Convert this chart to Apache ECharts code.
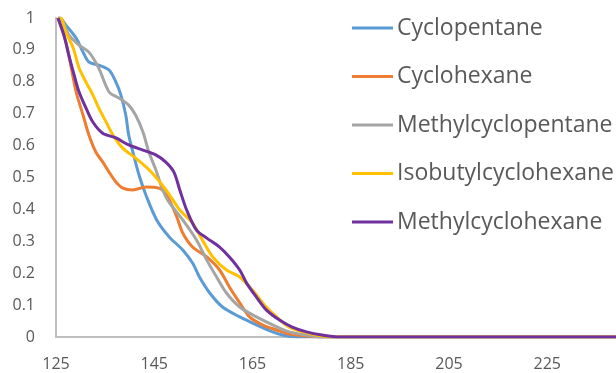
<!DOCTYPE html>
<html>
<head>
<meta charset="utf-8">
<script src="https://cdn.jsdelivr.net/npm/echarts@6/dist/echarts.min.js"></script>
<style>
  html, body { margin: 0; padding: 0; background: #fff; }
  #main { width: 616px; height: 373px; }
</style>
</head>
<body>
<div id="main"></div>
<script>
var names = ['Cyclopentane', 'Cyclohexane', 'Methylcyclopentane', 'Isobutylcyclohexane', 'Methylcyclohexane'];
var colors = ['#5B9BD5', '#ED7D31', '#A5A5A5', '#FFC000', '#7030A0'];

// [temperature, fraction]
var cyclopentane = [
  [125.4, 1.0], [125.8, 1.0], [127.0, 0.978], [129.1, 0.937], [130.5, 0.893], [131.7, 0.862],
  [133.7, 0.852], [135.8, 0.837], [137.2, 0.799], [138.2, 0.759], [139.2, 0.696], [139.8, 0.633],
  [140.8, 0.571], [141.9, 0.508], [143.3, 0.445], [145.5, 0.367], [148.1, 0.313], [150.8, 0.273],
  [152.8, 0.232], [154.2, 0.188], [156.3, 0.138], [158.9, 0.094], [162.4, 0.063], [165.8, 0.038],
  [169.1, 0.016], [171.1, 0.006], [173.9, 0], [190, 0], [210, 0], [239, 0]
];
var cyclohexane = [
  [125.4, 1.0], [127.0, 0.925], [128.0, 0.853], [129.1, 0.768], [130.5, 0.696], [131.7, 0.633],
  [133.1, 0.580], [134.5, 0.549], [135.8, 0.517], [137.2, 0.486], [138.6, 0.467], [140.6, 0.461],
  [143.3, 0.470], [145.3, 0.469], [146.7, 0.461], [148.1, 0.429], [149.6, 0.376], [150.8, 0.326],
  [152.8, 0.282], [155.7, 0.251], [158.3, 0.210], [160.3, 0.157], [162.4, 0.107], [164.4, 0.063],
  [167.0, 0.038], [169.9, 0.022], [172.5, 0.009], [176.0, 0.003], [179, 0], [195, 0], [215, 0], [239, 0]
];
var methylcyclopentane = [
  [125.4, 1.0], [125.8, 1.0], [127.6, 0.947], [129.7, 0.915], [131.7, 0.893], [133.7, 0.843],
  [135.8, 0.768], [137.8, 0.749], [139.8, 0.727], [141.2, 0.696], [142.7, 0.643], [143.9, 0.580],
  [145.3, 0.525], [146.7, 0.462], [147.9, 0.425], [150.8, 0.367], [153.6, 0.304], [155.7, 0.241],
  [157.7, 0.188], [159.7, 0.138], [162.4, 0.094], [165.8, 0.063], [169.1, 0.038], [172.5, 0.016],
  [176.0, 0.006], [179.2, 0], [195, 0], [215, 0], [239, 0]
];
var isobutylcyclohexane = [
  [125.6, 1.0], [126.0, 1.0], [127.0, 0.956], [128.5, 0.906], [129.7, 0.843], [131.1, 0.799],
  [132.5, 0.759], [133.7, 0.718], [135.2, 0.674], [136.6, 0.633], [138.6, 0.592], [141.2, 0.561],
  [143.9, 0.525], [146.7, 0.475], [148.8, 0.430], [150.2, 0.398], [152.8, 0.357], [154.8, 0.304],
  [156.9, 0.251], [159.7, 0.210], [162.4, 0.188], [165.0, 0.147], [167.8, 0.094], [169.9, 0.063],
  [172.5, 0.031], [176.0, 0.013], [179.2, 0.003], [182.7, 0], [200, 0], [220, 0], [239, 0]
];
var methylcyclohexane = [
  [125.4, 1.0], [126.6, 0.947], [127.6, 0.884], [128.7, 0.821], [129.7, 0.768], [131.1, 0.718],
  [132.5, 0.674], [134.5, 0.639], [137.2, 0.624], [139.8, 0.602], [142.7, 0.586], [145.3, 0.571],
  [147.3, 0.549], [149.0, 0.517], [150.2, 0.461], [151.6, 0.398], [153.6, 0.335], [155.7, 0.310],
  [158.3, 0.282], [160.3, 0.251], [162.4, 0.210], [163.8, 0.169], [165.8, 0.125], [167.8, 0.085],
  [170.5, 0.053], [173.1, 0.031], [176.0, 0.016], [179.2, 0.006], [182.7, 0], [200, 0], [220, 0], [239, 0]
];
var seriesData = [cyclopentane, cyclohexane, methylcyclopentane, isobutylcyclohexane, methylcyclohexane];

var font = '"Open Sans", "Noto Sans", sans-serif';
var chart = echarts.init(document.getElementById('main'), null, { renderer: 'canvas' });

var option = {
  animation: false,
  color: colors,
  grid: { left: 56, right: 0, top: 18, bottom: 36 },
  legend: {
    orient: 'vertical',
    left: 352,
    top: 16,
    padding: 0,
    icon: 'rect',
    itemWidth: 41,
    itemHeight: 3,
    itemGap: 24.5,
    data: names,
    textStyle: { color: '#595959', fontSize: 23, lineHeight: 24, fontFamily: font, padding: [0, 0, 0, -1] }
  },
  xAxis: {
    type: 'value',
    min: 125,
    max: 239,
    interval: 20,
    axisLine: { show: true, lineStyle: { color: '#BFBFBF', width: 2 } },
    axisTick: { show: false },
    splitLine: { show: false },
    axisLabel: { color: '#595959', fontSize: 16, fontFamily: font, margin: 19, showMaxLabel: false }
  },
  yAxis: {
    type: 'value',
    min: 0,
    max: 1,
    interval: 0.1,
    axisLine: { show: true, lineStyle: { color: '#BFBFBF', width: 2 } },
    axisTick: { show: false },
    splitLine: { show: false },
    axisLabel: { color: '#595959', fontSize: 16, fontFamily: font, margin: 21 }
  },
  series: names.map(function (n, i) {
    return {
      name: n,
      type: 'line',
      data: seriesData[i],
      symbol: 'none',
      smooth: 0.3,
      lineStyle: { width: 3, color: colors[i] },
      itemStyle: { color: colors[i] }
    };
  })
};
chart.setOption(option);
</script>
</body>
</html>
